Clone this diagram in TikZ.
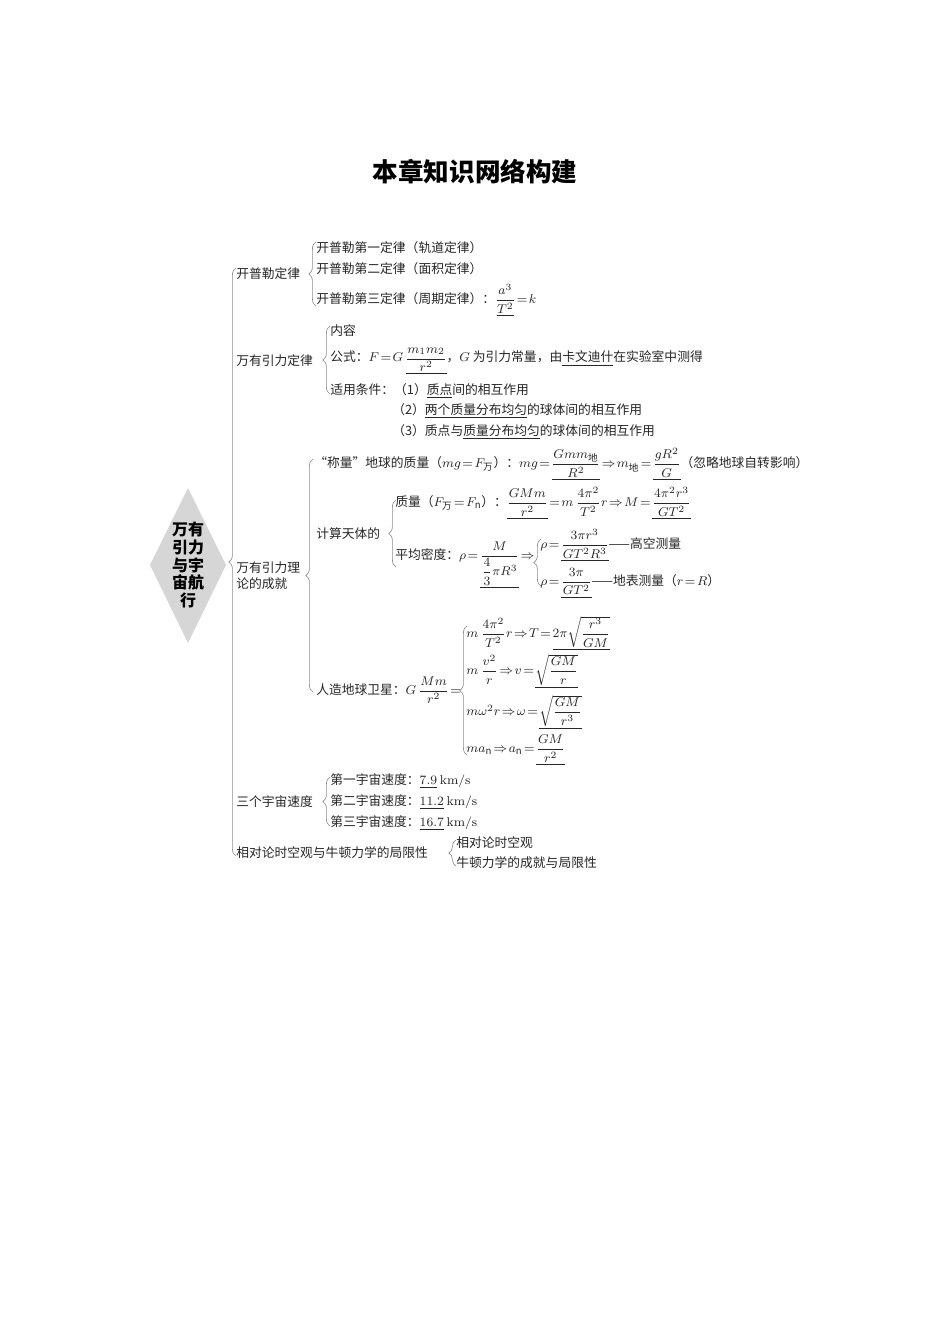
\documentclass[tikz,border=0pt]{standalone}
\usepackage{amsmath}
\usepackage{fontspec}
\newfontfamily\cjk{Noto Sans CJK SC}
\newcommand\tightmath{\thickmuskip=2mu\relax\medmuskip=1.5mu\relax}
\usetikzlibrary{decorations.pathreplacing}

\begin{document}
\begin{tikzpicture}[x=0.6263pt, y=-0.6263pt,
    txt/.style={anchor=west, inner sep=0pt, text=black!85,
        font=\cjk\fontsize{8}{10}\selectfont\tightmath},
    br/.style={draw=black!45, line width=0.4pt, decorate, decoration={brace, amplitude=4.5pt}}]
    \useasboundingbox[fill=white] (0,0) rectangle (950,1344);

    \node at (475,172) (title) {\cjk\bfseries\fontsize{16}{18}\selectfont 本章知识网络构建};
    \fill[black!16] (150,565) -- (188,488) -- (226,565) -- (188,643) -- cycle;
    \node[align=center, font=\cjk\bfseries\fontsize{10}{11}\selectfont] at (188,565) (hub)
          {万有\\引力\\与宇\\宙航\\行};
    \draw[br] (236,856) -- (236,268);

    % 开普勒定律
    \node[txt] at (236,274) (kp) {开普勒定律};
    \draw[br] (316,306) -- (316,242);
    \node[txt] at (316,248) (kp1) {开普勒第一定律（轨道定律）};
    \node[txt] at (316,269) (kp2) {开普勒第二定律（面积定律）};
    \node[txt] at (316,300) (kp3) {开普勒第三定律（周期定律）：$\dfrac{a^3}{\underline{T^2}}=k$};

    % 万有引力定律
    \node[txt] at (236,361) (ug) {万有引力定律};
    \draw[br] (330,394) -- (330,326);
    \node[txt] at (330,331) (ug1) {内容};
    \node[txt] at (330,361) (ug2) {公式：$F=G\,\underline{\dfrac{m_1m_2}{r^2}}$，$G$ 为引力常量，由\underline{卡文迪什}在实验室中测得};
    \node[txt] at (330,391) (ug3) {适用条件：（1）\underline{质点}间的相互作用};
    \node[txt] at (392,411) (ug4) {（2）\underline{两个质量分布均匀}的球体间的相互作用};
    \node[txt] at (392,432) (ug5) {（3）质点与\underline{质量分布均匀}的球体间的相互作用};

    % 万有引力理论的成就
    \node[txt, align=left] at (236,576) (ach) {万有引力理\\论的成就};
    \draw[br] (313,692) -- (313,459);
    \node[txt] at (314,464) (ach1) {“称量”地球的质量（$mg=F_{\text{万}}$）：$mg=\underline{\dfrac{Gmm_{\text{地}}}{R^2}}\Rightarrow m_{\text{地}}=\underline{\dfrac{gR^2}{G}}$（忽略地球自转影响）};
    \node[txt] at (316,534) (calc) {计算天体的};
    \draw[br] (396,567) -- (396,500);
    \node[txt] at (395,503) (calc1) {质量（$F_{\text{万}}=F_{\text{n}}$）：$\underline{\dfrac{GMm}{r^2}}=m\,\dfrac{4\pi^2}{T^2}r\Rightarrow M=\underline{\dfrac{4\pi^2r^3}{GT^2}}$};
    \node[txt] at (395,565) (calc2) {平均密度：$\rho=\underline{\dfrac{M}{\dfrac{4}{3}\pi R^3}}\Rightarrow$};
    \draw[br] (541,586) -- (541,539);
    \node[txt] at (540,545) (den1) {$\rho=\underline{\dfrac{3\pi r^3}{GT^2R^3}}$——高空测量};
    \node[txt] at (540,583) (den2) {$\rho=\underline{\dfrac{3\pi}{GT^2}}$——地表测量（$r=R$）};
    \node[txt] at (316,690) (sat) {人造地球卫星：$G\,\dfrac{Mm}{r^2}=$};
    \draw[br] (467,755) -- (467,626);
    \node[txt] at (466,633) (sat1) {$m\,\dfrac{4\pi^2}{T^2}r\Rightarrow T=\underline{2\pi\sqrt{\dfrac{r^3}{GM}}}$};
    \node[txt] at (466,671) (sat2) {$m\,\dfrac{v^2}{r}\Rightarrow v=\underline{\sqrt{\dfrac{GM}{r}}}$};
    \node[txt] at (466,712) (sat3) {$m\omega^2r\Rightarrow\omega=\underline{\sqrt{\dfrac{GM}{r^3}}}$};
    \node[txt] at (466,750) (sat4) {$ma_{\text{n}}\Rightarrow a_{\text{n}}=\underline{\dfrac{GM}{r^2}}$};

    % 三个宇宙速度
    \node[txt] at (236,802) (spd) {三个宇宙速度};
    \draw[br] (330,826) -- (330,777);
    \node[txt] at (330,781) (spd1) {第一宇宙速度：\underline{$7.9$} $\mathrm{km/s}$};
    \node[txt] at (330,802) (spd2) {第二宇宙速度：\underline{$11.2$} $\mathrm{km/s}$};
    \node[txt] at (330,823) (spd3) {第三宇宙速度：\underline{$16.7$} $\mathrm{km/s}$};

    % 相对论时空观
    \node[txt] at (236,853) (rel) {相对论时空观与牛顿力学的局限性};
    \draw[br] (456,866) -- (456,840);
    \node[txt] at (456,843) (rel1) {相对论时空观};
    \node[txt] at (456,863) (rel2) {牛顿力学的成就与局限性};
\end{tikzpicture}
\end{document}
